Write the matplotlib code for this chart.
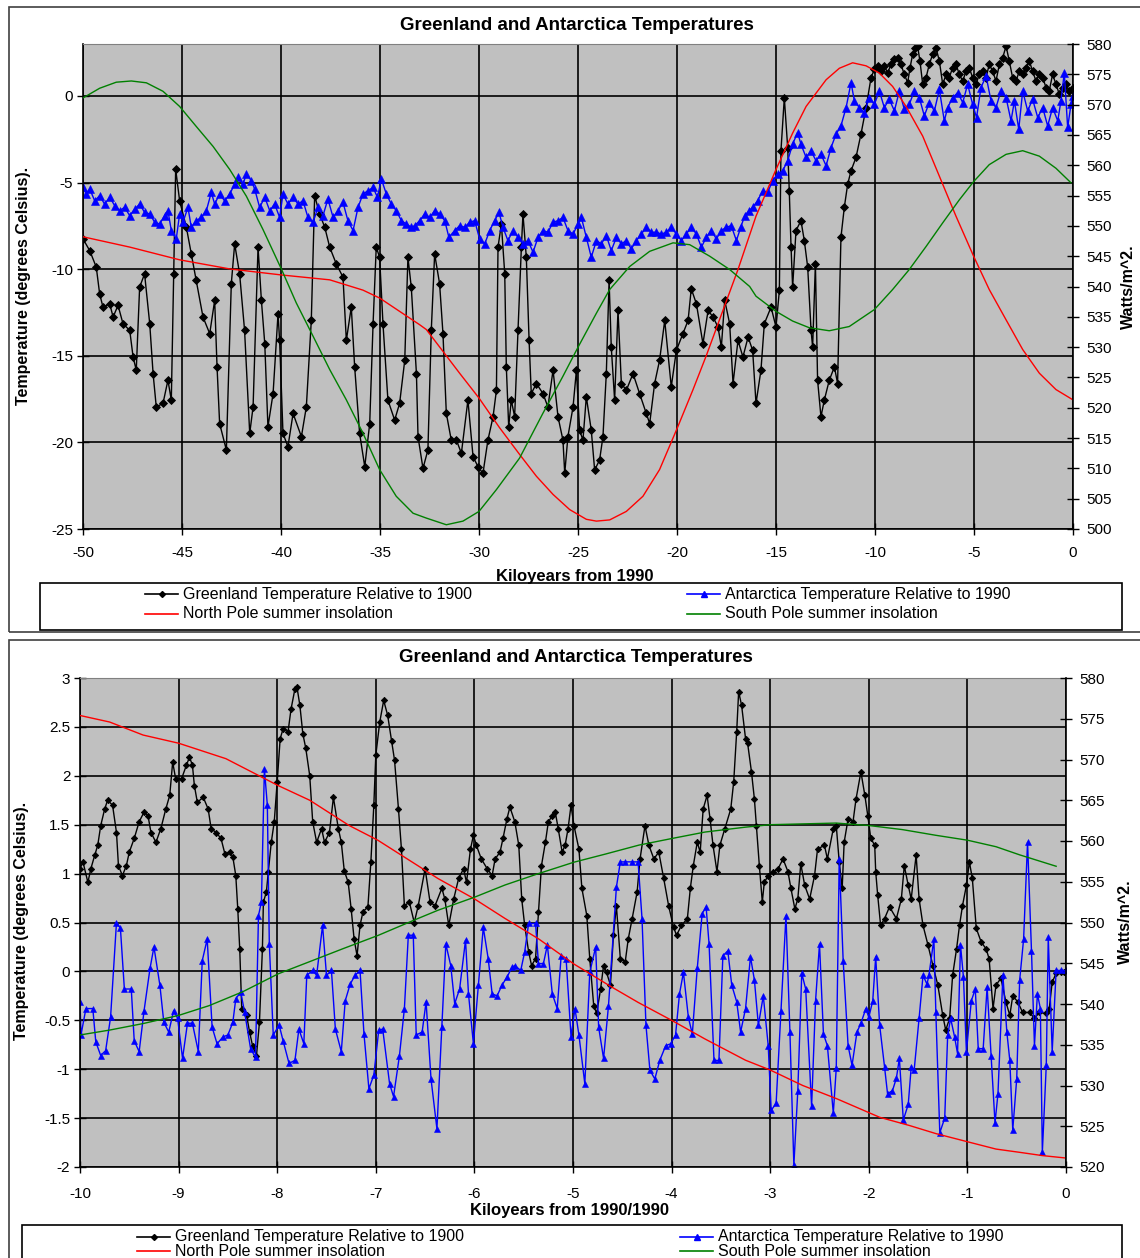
import matplotlib
matplotlib.use("Agg")
import matplotlib.pyplot as plt
from matplotlib.patches import Rectangle
from matplotlib.lines import Line2D
from matplotlib.ticker import FuncFormatter

plt.rcParams['font.family'] = ['Liberation Sans', 'DejaVu Sans']
plt.rcParams['axes.unicode_minus'] = False

FIG_W, FIG_H = 1140, 1258

# ---------------- data: last 50 kyr (kyr, degrees C) ----------------
greenland_50k = [
    (-50.00, -8.25), (-49.66, -8.93), (-49.33, -9.88), (-49.16, -11.42), (-48.99, -12.19),
    (-48.65, -12.00), (-48.48, -12.76), (-48.23, -12.09), (-47.98, -13.15), (-47.64, -13.53),
    (-47.47, -15.07), (-47.31, -15.83), (-47.14, -11.04), (-46.89, -10.27), (-46.63, -13.15),
    (-46.46, -16.03), (-46.30, -17.95), (-45.96, -17.75), (-45.71, -16.41), (-45.54, -17.56),
    (-45.42, -10.27), (-45.32, -4.22), (-45.12, -6.05), (-44.78, -7.58), (-44.53, -9.12),
    (-44.28, -10.65), (-43.94, -12.76), (-43.60, -13.72), (-43.35, -11.80), (-43.23, -15.64),
    (-43.10, -18.91), (-42.76, -20.44), (-42.51, -10.84), (-42.34, -8.54), (-42.09, -10.27),
    (-41.84, -13.53), (-41.58, -19.48), (-41.41, -17.95), (-41.16, -8.73), (-40.99, -11.80),
    (-40.82, -14.30), (-40.66, -19.10), (-40.40, -17.18), (-40.15, -12.57), (-40.07, -14.11),
    (-39.90, -19.48), (-39.65, -20.25), (-39.39, -18.33), (-38.97, -19.67), (-38.72, -17.95),
    (-38.47, -12.96), (-38.30, -5.76), (-38.05, -6.81), (-37.79, -7.58), (-37.54, -8.73),
    (-37.21, -9.69), (-36.87, -10.46), (-36.70, -14.11), (-36.45, -12.19), (-36.28, -15.64),
    (-36.03, -19.48), (-35.77, -21.40), (-35.52, -18.91), (-35.35, -13.15), (-35.19, -8.73),
    (-35.02, -9.31), (-34.85, -13.15), (-34.60, -17.56), (-34.26, -18.71), (-34.01, -17.75),
    (-33.75, -15.26), (-33.59, -9.31), (-33.42, -11.04), (-33.16, -16.03), (-33.08, -19.67),
    (-32.83, -21.50), (-32.58, -20.44), (-32.41, -13.53), (-32.24, -9.12), (-31.99, -10.84),
    (-31.82, -13.72), (-31.65, -18.33), (-31.40, -19.87), (-31.14, -19.87), (-30.89, -20.63),
    (-30.56, -17.56), (-30.30, -20.83), (-30.05, -21.40), (-29.80, -21.79), (-29.55, -19.87),
    (-29.29, -18.52), (-29.12, -16.99), (-29.04, -8.73), (-28.87, -7.39), (-28.70, -10.27),
    (-28.62, -15.64), (-28.50, -19.10), (-28.37, -17.56), (-28.20, -18.52), (-28.03, -13.53),
    (-27.86, -8.73), (-27.78, -6.81), (-27.61, -9.31), (-27.47, -14.11), (-27.36, -17.18),
    (-27.10, -16.60), (-26.77, -17.18), (-26.52, -17.95), (-26.26, -15.83), (-26.01, -18.52),
    (-25.76, -19.87), (-25.67, -21.79), (-25.51, -19.67), (-25.25, -17.95), (-25.08, -15.83),
    (-24.92, -19.29), (-24.75, -19.87), (-24.58, -17.37), (-24.33, -19.29), (-24.16, -21.59),
    (-23.91, -21.02), (-23.74, -19.67), (-23.57, -16.03), (-23.43, -10.65), (-23.32, -14.49),
    (-23.15, -17.56), (-22.98, -12.38), (-22.81, -16.60), (-22.56, -16.99), (-22.22, -16.03),
    (-21.89, -17.18), (-21.55, -18.33), (-21.38, -18.91), (-21.13, -16.60), (-20.88, -15.26),
    (-20.62, -12.96), (-20.29, -16.79), (-20.03, -14.68), (-19.70, -13.72), (-19.44, -12.96),
    (-19.28, -11.13), (-19.02, -12.00), (-18.69, -14.30), (-18.43, -12.38), (-18.18, -12.76),
    (-17.93, -13.34), (-17.76, -14.49), (-17.59, -11.80), (-17.34, -13.15), (-17.17, -16.60),
    (-16.92, -14.11), (-16.67, -15.07), (-16.41, -13.92), (-16.18, -14.68), (-16.01, -17.75),
    (-15.76, -15.83), (-15.59, -13.15), (-15.25, -12.19), (-15.00, -13.34), (-14.83, -11.23),
    (-14.75, -3.17), (-14.58, -0.10), (-14.41, -2.98), (-14.33, -5.47), (-14.24, -8.73),
    (-14.16, -11.04), (-13.99, -7.77), (-13.74, -7.20), (-13.57, -8.35), (-13.40, -9.88),
    (-13.23, -13.53), (-13.15, -14.49), (-13.01, -9.69), (-12.90, -16.41), (-12.73, -18.52),
    (-12.56, -17.56), (-12.31, -16.41), (-12.05, -15.64), (-11.89, -16.60), (-11.72, -8.16),
    (-11.55, -6.43), (-11.38, -5.09), (-11.21, -4.32), (-10.96, -3.55), (-10.71, -2.21),
    (-10.45, -0.67), (-10.20, 1.06), (-10.03, 1.54), (-9.87, 1.73), (-9.70, 1.44),
    (-9.53, 1.73), (-9.36, 1.34), (-9.19, 1.82), (-9.02, 2.11), (-8.86, 2.21),
    (-8.69, 1.82), (-8.52, 1.25), (-8.35, 0.77), (-8.23, 1.63), (-8.10, 2.40),
    (-7.96, 2.78), (-7.85, 2.88), (-7.73, 2.02), (-7.59, 0.67), (-7.42, 1.06),
    (-7.26, 1.82), (-7.09, 2.40), (-6.92, 2.78), (-6.75, 2.02), (-6.58, 0.67),
    (-6.41, 1.25), (-6.25, 1.06), (-6.08, 1.63), (-5.91, 1.82), (-5.74, 1.25),
    (-5.57, 0.86), (-5.40, 1.44), (-5.24, 1.63), (-5.07, 1.06), (-4.90, 0.67),
    (-4.73, 1.25), (-4.56, 1.44), (-4.39, 1.06), (-4.23, 1.82), (-4.06, 1.44),
    (-3.89, 0.86), (-3.72, 1.82), (-3.55, 2.21), (-3.38, 2.88), (-3.22, 2.02),
    (-3.05, 1.06), (-2.88, 0.86), (-2.71, 1.44), (-2.54, 1.25), (-2.37, 1.63),
    (-2.21, 2.02), (-2.04, 1.44), (-1.87, 0.86), (-1.70, 1.25), (-1.53, 1.06),
    (-1.36, 0.48), (-1.20, 0.29), (-1.03, 1.25), (-0.86, 0.67), (-0.69, 0.10),
    (-0.52, 0.48), (-0.35, 0.67), (-0.19, 0.29), (-0.02, 0.48),
]

antarctica_50k = [
    (-50.00, -5.28), (-49.83, -5.66), (-49.66, -5.37), (-49.41, -6.05), (-49.16, -5.76),
    (-48.91, -6.24), (-48.65, -5.85), (-48.40, -6.33), (-48.15, -6.62), (-47.90, -6.43),
    (-47.64, -6.91), (-47.39, -6.53), (-47.14, -6.24), (-46.89, -6.72), (-46.63, -6.81),
    (-46.38, -7.29), (-46.13, -7.39), (-45.88, -6.91), (-45.71, -6.62), (-45.54, -7.77),
    (-45.29, -8.25), (-45.12, -6.81), (-44.95, -7.29), (-44.70, -6.43), (-44.53, -7.58),
    (-44.28, -7.20), (-44.02, -7.01), (-43.77, -6.62), (-43.52, -5.57), (-43.35, -6.24),
    (-43.10, -5.66), (-42.85, -6.05), (-42.59, -5.66), (-42.34, -5.09), (-42.17, -4.70),
    (-41.92, -5.09), (-41.75, -4.51), (-41.50, -4.89), (-41.33, -5.37), (-41.08, -6.43),
    (-40.82, -5.85), (-40.57, -6.62), (-40.32, -6.24), (-40.07, -7.01), (-39.90, -5.66),
    (-39.65, -6.24), (-39.39, -5.85), (-39.14, -6.24), (-38.89, -6.05), (-38.64, -7.01),
    (-38.38, -7.29), (-38.13, -6.43), (-37.88, -6.91), (-37.63, -5.95), (-37.37, -7.01),
    (-37.12, -6.62), (-36.87, -6.14), (-36.62, -7.20), (-36.36, -7.77), (-36.11, -6.43),
    (-35.86, -5.66), (-35.61, -5.47), (-35.35, -5.28), (-35.13, -5.85), (-34.93, -4.80),
    (-34.68, -5.66), (-34.43, -6.24), (-34.18, -6.62), (-33.92, -7.20), (-33.67, -7.39),
    (-33.42, -7.58), (-33.25, -7.49), (-33.00, -7.20), (-32.74, -6.81), (-32.49, -7.01),
    (-32.24, -6.62), (-31.99, -6.81), (-31.73, -7.20), (-31.52, -8.16), (-31.23, -7.77),
    (-30.98, -7.49), (-30.72, -7.58), (-30.47, -7.29), (-30.22, -7.20), (-29.97, -8.25),
    (-29.71, -8.54), (-29.46, -7.77), (-29.21, -7.20), (-28.99, -6.72), (-28.79, -7.58),
    (-28.54, -8.35), (-28.28, -7.77), (-28.03, -8.16), (-27.78, -8.54), (-27.53, -8.35),
    (-27.27, -9.02), (-27.02, -8.16), (-26.77, -7.77), (-26.52, -7.87), (-26.26, -7.29),
    (-26.01, -7.20), (-25.76, -7.01), (-25.51, -7.77), (-25.25, -7.97), (-25.00, -7.39),
    (-24.83, -7.01), (-24.58, -8.16), (-24.33, -9.31), (-24.07, -8.35), (-23.82, -8.54),
    (-23.57, -8.06), (-23.32, -8.93), (-23.06, -8.16), (-22.81, -8.54), (-22.56, -8.35),
    (-22.31, -8.83), (-22.05, -8.35), (-21.80, -7.97), (-21.55, -7.58), (-21.30, -7.87),
    (-21.04, -7.87), (-20.79, -7.97), (-20.54, -7.87), (-20.29, -7.58), (-20.03, -7.97),
    (-19.78, -8.35), (-19.53, -7.97), (-19.28, -7.58), (-19.02, -7.97), (-18.77, -8.73),
    (-18.52, -8.16), (-18.27, -7.77), (-18.01, -8.25), (-17.76, -7.77), (-17.51, -7.58),
    (-17.26, -7.49), (-17.00, -8.35), (-16.78, -7.58), (-16.58, -6.91), (-16.36, -6.62),
    (-16.18, -6.43), (-15.93, -6.05), (-15.67, -5.47), (-15.42, -5.57), (-15.17, -4.89),
    (-14.92, -4.51), (-14.66, -4.32), (-14.41, -3.74), (-14.16, -2.78), (-13.91, -2.11),
    (-13.74, -2.78), (-13.48, -3.55), (-13.23, -3.17), (-12.98, -3.74), (-12.73, -3.36),
    (-12.47, -4.03), (-12.22, -2.98), (-11.97, -2.21), (-11.72, -1.73), (-11.46, -0.67),
    (-11.21, 0.77), (-11.04, -0.29), (-10.79, -0.67), (-10.54, -0.96), (-10.29, -0.10),
    (-10.03, -0.48), (-9.78, 0.29), (-9.53, -0.67), (-9.28, -0.19), (-9.02, -0.86),
    (-8.77, 0.29), (-8.52, -0.77), (-8.27, -0.48), (-8.01, 0.29), (-7.76, -0.10),
    (-7.51, -1.15), (-7.26, -0.38), (-7.00, -0.86), (-6.75, 0.38), (-6.50, -1.44),
    (-6.33, -0.67), (-6.08, -0.10), (-5.82, 0.19), (-5.57, -0.38), (-5.32, 0.67),
    (-5.07, -0.48), (-4.87, -1.25), (-4.65, 0.48), (-4.39, 1.15), (-4.14, -0.29),
    (-3.89, -0.67), (-3.64, 0.29), (-3.38, -0.10), (-3.13, -1.44), (-2.96, -0.29),
    (-2.74, -1.92), (-2.54, 0.29), (-2.29, -0.86), (-2.04, -0.19), (-1.78, -1.25),
    (-1.53, -0.67), (-1.28, -1.73), (-1.03, -0.67), (-0.77, -1.44), (-0.61, -0.29),
    (-0.44, 1.34), (-0.27, -1.82), (-0.10, -0.48), (-0.02, 0.00),
]

# insolation, Watts/m^2
north_50k = [
    (-50.00, 548.2), (-47.64, 546.5), (-45.12, 544.4), (-42.59, 542.9), (-39.97, 541.9),
    (-37.54, 541.1), (-35.86, 539.4), (-35.02, 538.1), (-34.01, 535.9), (-33.00, 533.7),
    (-32.66, 532.9), (-31.82, 529.3), (-30.98, 525.7), (-30.00, 521.6), (-28.96, 516.7),
    (-27.95, 512.3), (-27.10, 508.7), (-26.26, 505.7), (-25.42, 503.2), (-24.58, 501.6),
    (-24.07, 501.3), (-23.40, 501.5), (-22.56, 502.9), (-21.72, 505.4), (-20.88, 509.8),
    (-19.98, 516.7), (-19.19, 523.0), (-18.52, 528.6), (-16.92, 542.8), (-16.01, 551.6),
    (-15.00, 559.3), (-14.16, 565.3), (-13.48, 569.7), (-12.47, 574.1), (-11.80, 576.0),
    (-11.13, 576.9), (-10.45, 576.4), (-9.78, 575.2), (-9.11, 573.0), (-8.43, 569.7),
    (-7.59, 564.8), (-6.75, 558.2), (-5.91, 551.6), (-5.02, 545.0), (-4.23, 539.5),
    (-3.38, 534.5), (-2.54, 529.6), (-1.70, 525.7), (-0.86, 523.0), (0.00, 521.3),
]

south_50k = [
    (-50.00, 571.1), (-49.16, 572.7), (-48.32, 573.7), (-47.56, 573.9), (-46.80, 573.6),
    (-45.96, 572.2), (-45.12, 569.7), (-44.28, 566.4), (-43.43, 563.1), (-42.59, 559.3),
    (-41.75, 554.9), (-40.91, 549.4), (-39.97, 542.8), (-39.23, 537.3), (-38.38, 531.8),
    (-37.54, 526.3), (-36.70, 521.3), (-35.86, 515.8), (-35.02, 509.8), (-34.18, 505.4),
    (-33.33, 502.6), (-32.66, 501.8), (-31.65, 500.7), (-30.81, 501.3), (-30.00, 502.9),
    (-29.12, 506.5), (-27.95, 511.7), (-26.77, 519.1), (-25.76, 525.2), (-24.98, 530.1),
    (-24.07, 535.6), (-23.40, 539.5), (-22.39, 543.3), (-21.38, 545.8), (-20.20, 547.2),
    (-19.36, 546.9), (-18.35, 545.0), (-17.34, 542.8), (-16.33, 540.0), (-16.01, 538.4),
    (-15.00, 535.9), (-14.16, 534.3), (-13.32, 533.2), (-12.31, 532.7), (-11.30, 533.4),
    (-10.03, 536.2), (-9.11, 539.5), (-8.27, 542.8), (-7.42, 546.6), (-6.58, 550.5),
    (-5.74, 554.3), (-5.02, 557.3), (-4.23, 560.1), (-3.38, 561.8), (-2.54, 562.4),
    (-1.70, 561.5), (-0.86, 559.5), (-0.10, 557.1),
]

# ---------------- data: last 10 kyr ----------------
greenland_10k = [
    (-10.00, 1.05), (-9.97, 1.12), (-9.92, 0.91), (-9.89, 1.05), (-9.85, 1.19), (-9.82, 1.29),
    (-9.79, 1.49), (-9.75, 1.66), (-9.72, 1.75), (-9.67, 1.70), (-9.63, 1.42), (-9.61, 1.08),
    (-9.57, 0.98), (-9.53, 1.08), (-9.50, 1.22), (-9.45, 1.36), (-9.40, 1.53), (-9.35, 1.63),
    (-9.31, 1.59), (-9.28, 1.42), (-9.23, 1.32), (-9.18, 1.46), (-9.13, 1.66), (-9.09, 1.80),
    (-9.06, 2.14), (-9.03, 1.97), (-8.97, 1.97), (-8.92, 2.11), (-8.89, 2.19), (-8.86, 2.11),
    (-8.84, 1.90), (-8.81, 1.73), (-8.75, 1.78), (-8.70, 1.66), (-8.67, 1.46), (-8.62, 1.42),
    (-8.57, 1.36), (-8.53, 1.20), (-8.48, 1.22), (-8.45, 1.17), (-8.42, 0.98), (-8.40, 0.64),
    (-8.38, 0.23), (-8.36, -0.38), (-8.31, -0.45), (-8.28, -0.62), (-8.25, -0.76), (-8.21, -0.86),
    (-8.18, -0.52), (-8.15, 0.23), (-8.14, 0.71), (-8.11, 0.81), (-8.09, 1.02), (-8.06, 1.32),
    (-8.03, 1.53), (-8.00, 1.94), (-7.97, 2.38), (-7.94, 2.48), (-7.89, 2.45), (-7.86, 2.68),
    (-7.82, 2.89), (-7.80, 2.91), (-7.77, 2.72), (-7.74, 2.43), (-7.71, 2.28), (-7.67, 2.00),
    (-7.64, 1.53), (-7.60, 1.32), (-7.55, 1.46), (-7.52, 1.32), (-7.47, 1.42), (-7.43, 1.78),
    (-7.38, 1.46), (-7.35, 1.32), (-7.32, 1.03), (-7.28, 0.91), (-7.25, 0.64), (-7.22, 0.33),
    (-7.19, 0.16), (-7.16, 0.47), (-7.13, 0.61), (-7.08, 0.66), (-7.05, 1.12), (-7.02, 1.70),
    (-7.00, 2.21), (-6.96, 2.55), (-6.92, 2.77), (-6.88, 2.62), (-6.84, 2.36), (-6.81, 2.16),
    (-6.77, 1.66), (-6.74, 1.25), (-6.71, 0.67), (-6.66, 0.71), (-6.61, 0.50), (-6.57, 0.67),
    (-6.50, 1.05), (-6.45, 0.71), (-6.40, 0.67), (-6.33, 0.85), (-6.30, 0.74), (-6.26, 0.47),
    (-6.21, 0.74), (-6.16, 0.95), (-6.11, 1.05), (-6.08, 0.91), (-6.04, 1.25), (-6.01, 1.39),
    (-5.98, 1.29), (-5.93, 1.15), (-5.87, 1.05), (-5.82, 0.98), (-5.79, 1.15), (-5.74, 1.22),
    (-5.71, 1.36), (-5.67, 1.56), (-5.64, 1.68), (-5.59, 1.53), (-5.55, 1.29), (-5.52, 0.74),
    (-5.49, 0.47), (-5.45, 0.20), (-5.42, 0.06), (-5.38, 0.13), (-5.35, 0.61), (-5.32, 1.08),
    (-5.28, 1.32), (-5.25, 1.53), (-5.21, 1.59), (-5.18, 1.63), (-5.15, 1.46), (-5.11, 1.22),
    (-5.08, 1.29), (-5.05, 1.46), (-5.02, 1.70), (-4.99, 1.49), (-4.94, 1.25), (-4.91, 0.85),
    (-4.86, 0.57), (-4.83, 0.13), (-4.79, -0.35), (-4.76, -0.43), (-4.72, -0.18), (-4.69, 0.06),
    (-4.66, -0.01), (-4.62, -0.14), (-4.59, 0.37), (-4.56, 0.67), (-4.52, 0.13), (-4.47, 0.10),
    (-4.44, 0.33), (-4.40, 0.54), (-4.35, 0.81), (-4.32, 1.15), (-4.27, 1.49), (-4.23, 1.29),
    (-4.18, 1.15), (-4.13, 1.22), (-4.08, 0.95), (-4.03, 0.67), (-3.98, 0.45), (-3.95, 0.37),
    (-3.90, 0.47), (-3.84, 0.54), (-3.81, 0.85), (-3.78, 1.08), (-3.74, 1.32), (-3.71, 1.22),
    (-3.68, 1.66), (-3.64, 1.80), (-3.61, 1.56), (-3.58, 1.29), (-3.54, 1.02), (-3.51, 1.29),
    (-3.46, 1.46), (-3.40, 1.66), (-3.37, 1.94), (-3.34, 2.45), (-3.32, 2.86), (-3.29, 2.72),
    (-3.25, 2.38), (-3.23, 2.34), (-3.19, 2.04), (-3.16, 1.76), (-3.14, 1.49), (-3.11, 1.08),
    (-3.08, 0.71), (-3.06, 0.91), (-3.02, 0.98), (-2.97, 1.02), (-2.92, 1.05), (-2.87, 1.15),
    (-2.82, 1.02), (-2.79, 0.85), (-2.75, 0.64), (-2.72, 0.74), (-2.69, 1.10), (-2.65, 0.88),
    (-2.60, 0.74), (-2.55, 0.98), (-2.52, 1.25), (-2.45, 1.29), (-2.42, 1.15), (-2.36, 1.46),
    (-2.33, 1.49), (-2.30, 1.12), (-2.27, 0.85), (-2.25, 1.32), (-2.21, 1.56), (-2.16, 1.53),
    (-2.13, 1.76), (-2.08, 2.04), (-2.04, 1.80), (-2.01, 1.59), (-1.98, 1.36), (-1.94, 1.29),
    (-1.93, 1.02), (-1.91, 0.78), (-1.88, 0.47), (-1.84, 0.54), (-1.79, 0.66), (-1.72, 0.54),
    (-1.67, 0.74), (-1.64, 1.08), (-1.60, 0.88), (-1.57, 0.74), (-1.52, 1.19), (-1.49, 0.74),
    (-1.45, 0.47), (-1.40, 0.27), (-1.35, 0.06), (-1.30, -0.14), (-1.25, -0.45), (-1.22, -0.60),
    (-1.18, -0.48), (-1.15, -0.04), (-1.11, 0.23), (-1.08, 0.47), (-1.05, 0.67), (-1.01, 0.88),
    (-0.98, 1.12), (-0.95, 0.95), (-0.91, 0.44), (-0.86, 0.30), (-0.81, 0.23), (-0.78, 0.13),
    (-0.74, -0.38), (-0.71, -0.14), (-0.66, -0.07), (-0.61, -0.31), (-0.57, -0.45), (-0.54, -0.25),
    (-0.49, -0.31), (-0.44, -0.42), (-0.37, -0.42), (-0.32, -0.48), (-0.27, -0.42), (-0.20, -0.43),
    (-0.17, -0.38), (-0.14, -0.11), (-0.10, -0.02), (-0.05, -0.01), (-0.02, -0.01),
]

antarctica_10k = [
    (-10.00, -0.31), (-9.99, -0.65), (-9.94, -0.38), (-9.87, -0.38), (-9.84, -0.72), (-9.79, -0.86),
    (-9.74, -0.81), (-9.69, -0.47), (-9.63, 0.50), (-9.59, 0.44), (-9.55, -0.18), (-9.48, -0.18),
    (-9.45, -0.71), (-9.40, -0.82), (-9.35, -0.40), (-9.29, 0.03), (-9.25, 0.25), (-9.19, -0.14),
    (-9.15, -0.52), (-9.10, -0.62), (-9.05, -0.40), (-9.01, -0.48), (-8.96, -0.89), (-8.91, -0.53),
    (-8.86, -0.53), (-8.80, -0.82), (-8.76, 0.11), (-8.71, 0.33), (-8.66, -0.57), (-8.61, -0.74),
    (-8.55, -0.67), (-8.50, -0.65), (-8.45, -0.52), (-8.42, -0.28), (-8.37, -0.21), (-8.33, -0.42),
    (-8.27, -0.79), (-8.22, -0.88), (-8.19, 0.57), (-8.16, 0.71), (-8.13, 2.07), (-8.10, 1.70),
    (-8.08, 0.28), (-8.04, -0.65), (-7.98, -0.55), (-7.94, -0.71), (-7.88, -0.94), (-7.82, -0.91),
    (-7.78, -0.59), (-7.73, -0.74), (-7.70, -0.04), (-7.64, 0.01), (-7.60, -0.04), (-7.54, 0.47),
    (-7.50, -0.04), (-7.45, 0.01), (-7.41, -0.59), (-7.35, -0.82), (-7.31, -0.30), (-7.26, -0.13),
    (-7.21, -0.04), (-7.16, 0.01), (-7.12, -0.64), (-7.07, -1.20), (-7.02, -1.06), (-6.97, -0.60),
    (-6.93, -0.59), (-6.86, -1.15), (-6.82, -1.28), (-6.76, -0.86), (-6.71, -0.38), (-6.67, 0.37),
    (-6.62, 0.37), (-6.59, -0.65), (-6.53, -0.62), (-6.49, -0.31), (-6.44, -1.10), (-6.38, -1.61),
    (-6.33, -0.57), (-6.29, 0.28), (-6.24, 0.06), (-6.20, -0.33), (-6.15, -0.18), (-6.09, 0.32),
    (-6.06, -0.23), (-6.01, -0.74), (-5.96, -0.14), (-5.91, 0.45), (-5.86, 0.13), (-5.82, -0.23),
    (-5.77, -0.25), (-5.72, -0.14), (-5.67, -0.06), (-5.62, 0.04), (-5.59, 0.06), (-5.53, 0.01),
    (-5.49, 0.20), (-5.45, 0.49), (-5.38, 0.49), (-5.35, 0.08), (-5.30, 0.08), (-5.26, 0.27),
    (-5.21, -0.23), (-5.16, -0.38), (-5.12, 0.16), (-5.07, 0.13), (-5.02, -0.67), (-4.98, -0.38),
    (-4.94, -0.65), (-4.88, -1.15), (-4.83, -0.01), (-4.77, 0.25), (-4.74, -0.57), (-4.69, -0.89),
    (-4.64, -0.35), (-4.56, 0.86), (-4.52, 1.12), (-4.47, 1.12), (-4.40, 1.12), (-4.34, 1.12),
    (-4.30, 0.54), (-4.26, -0.55), (-4.22, -1.01), (-4.17, -1.10), (-4.12, -0.91), (-4.06, -0.76),
    (-4.01, -0.74), (-3.96, -0.65), (-3.92, -0.23), (-3.88, -0.01), (-3.83, -0.47), (-3.79, -0.64),
    (-3.74, 0.03), (-3.69, 0.59), (-3.65, 0.66), (-3.62, 0.28), (-3.57, -0.91), (-3.52, -0.91),
    (-3.48, 0.16), (-3.43, 0.21), (-3.39, -0.14), (-3.34, -0.31), (-3.30, -0.62), (-3.25, -0.38),
    (-3.20, 0.15), (-3.16, -0.09), (-3.12, -0.55), (-3.07, -0.25), (-3.02, -0.76), (-2.99, -1.42),
    (-2.94, -1.35), (-2.89, -0.40), (-2.84, 0.57), (-2.80, -0.62), (-2.76, -1.98), (-2.72, -1.22),
    (-2.68, -0.02), (-2.64, -0.18), (-2.58, -1.38), (-2.54, -0.30), (-2.50, 0.28), (-2.46, -0.64),
    (-2.42, -0.76), (-2.36, -1.45), (-2.33, -0.99), (-2.30, 1.15), (-2.26, 0.11), (-2.21, -0.76),
    (-2.17, -0.96), (-2.12, -0.62), (-2.08, -0.53), (-2.03, -0.38), (-2.00, -0.47), (-1.96, -0.30),
    (-1.93, 0.15), (-1.89, -0.55), (-1.84, -0.98), (-1.81, -1.25), (-1.76, -1.22), (-1.72, -1.09),
    (-1.69, -0.89), (-1.65, -1.52), (-1.60, -1.36), (-1.57, -0.98), (-1.54, -1.01), (-1.49, -0.48),
    (-1.45, -0.04), (-1.41, -0.13), (-1.39, -0.04), (-1.34, 0.33), (-1.32, -0.42), (-1.28, -1.65),
    (-1.23, -1.50), (-1.20, -0.65), (-1.17, -0.48), (-1.13, -0.67), (-1.10, -0.84), (-1.07, 0.27),
    (-1.04, -0.06), (-1.01, -0.82), (-0.96, -0.30), (-0.92, -0.18), (-0.89, -0.79), (-0.84, -0.79),
    (-0.80, -0.16), (-0.76, -0.86), (-0.72, -1.55), (-0.69, -1.25), (-0.64, -0.04), (-0.60, -0.62),
    (-0.57, -0.91), (-0.54, -1.62), (-0.50, -1.10), (-0.47, -0.09), (-0.43, 0.33), (-0.39, 1.32),
    (-0.35, 0.21), (-0.32, -0.76), (-0.29, -0.23), (-0.26, -0.38), (-0.24, -1.85), (-0.20, -0.96),
    (-0.18, 0.35), (-0.14, -0.82), (-0.10, 0.01), (-0.05, 0.01), (0.00, 0.01),
]

north_10k = [
    (-10.00, 575.4), (-9.70, 574.6), (-9.36, 573.0), (-9.00, 572.0), (-8.52, 570.1), (-7.99, 566.8),
    (-7.67, 565.0), (-7.27, 561.9), (-6.98, 560.1), (-6.59, 557.1), (-6.37, 555.4), (-6.00, 552.9),
    (-5.69, 550.5), (-5.35, 548.0), (-4.99, 544.9), (-4.61, 542.1), (-4.34, 540.2), (-4.00, 538.0),
    (-3.66, 535.7), (-3.25, 533.1), (-3.00, 531.9), (-2.67, 530.0), (-2.33, 528.4), (-1.89, 526.1),
    (-1.59, 525.1), (-1.32, 524.1), (-1.00, 523.1), (-0.71, 522.2), (-0.47, 521.8), (-0.24, 521.4),
    (0.00, 521.1),
]

south_10k = [
    (-10.00, 536.2), (-9.70, 536.8), (-9.36, 537.6), (-9.00, 538.6), (-8.69, 539.8), (-8.35, 541.5),
    (-7.99, 543.7), (-7.67, 545.2), (-7.33, 546.8), (-6.98, 548.4), (-6.59, 550.4), (-6.37, 551.5),
    (-6.00, 553.1), (-5.69, 554.6), (-5.35, 556.0), (-4.99, 557.4), (-4.67, 558.4), (-4.33, 559.5),
    (-4.00, 560.3), (-3.66, 561.1), (-3.25, 561.7), (-3.00, 562.0), (-2.67, 562.1), (-2.33, 562.2),
    (-2.00, 561.9), (-1.66, 561.4), (-1.32, 560.7), (-1.00, 560.1), (-0.71, 559.3), (-0.47, 558.3),
    (-0.10, 556.9),
]

title = "Greenland and Antarctica Temperatures"
series_names = ["Greenland Temperature Relative to 1900",
                "Antarctica Temperature Relative to 1990",
                "North Pole summer insolation",
                "South Pole summer insolation"]
temp_label = "Temperature (degrees Celsius)."
watts_label = "Watts/m^2."

colors = {"green": "black", "ant": "#0000ff", "north": "#ff0000", "south": "#008000"}


def fx(px):
    return px / FIG_W


def fy(py):
    return 1 - py / FIG_H


def num(v, pos=None):
    return "%g" % v


def make_panel(fig, box, xticks, ylim, yticks, wticks, greenland, antarctica, north, south,
               tick_pad, gms, ams):
    x0, y0, x1, y1 = box
    ax = fig.add_axes([fx(x0), fy(y1), fx(x1) - fx(x0), fy(y0) - fy(y1)])
    ax.set_facecolor("#c0c0c0")
    ax.set_axisbelow(True)

    gx, gy = zip(*greenland)
    ax.plot(gx, gy, color=colors["green"], lw=1, marker="D", ms=gms, mew=0.6)
    ax_, ay = zip(*antarctica)
    ax.plot(ax_, ay, color=colors["ant"], lw=1, marker="^", ms=ams, mew=0.4)

    ax.set_xlim(xticks[0], xticks[-1])
    ax.set_ylim(*ylim)
    ax.set_xticks(xticks)
    ax.set_yticks(yticks)
    ax.xaxis.set_major_formatter(FuncFormatter(num))
    ax.yaxis.set_major_formatter(FuncFormatter(num))
    ax.grid(True, color="black", lw=1.2)
    ax.tick_params(direction="inout", length=9, width=1, labelsize=11, colors="black")
    ax.tick_params(axis="x", pad=tick_pad)
    ax.tick_params(axis="y", pad=2.5)
    ax.spines["top"].set_color("#808080")
    ax.spines["right"].set_visible(False)
    ax.spines["left"].set_linewidth(1.2)
    ax.spines["bottom"].set_linewidth(1.2)

    ax2 = ax.twinx()
    nx, ny = zip(*north)
    ax2.plot(nx, ny, color=colors["north"], lw=1)
    sx, sy = zip(*south)
    ax2.plot(sx, sy, color=colors["south"], lw=1)
    ax2.set_ylim(wticks[0], wticks[-1])
    ax2.set_yticks(wticks)
    ax2.yaxis.set_major_formatter(FuncFormatter(num))
    ax2.tick_params(direction="inout", length=9, width=1, labelsize=11, pad=5)
    for s in ["top", "left", "bottom"]:
        ax2.spines[s].set_visible(False)
    ax2.spines["right"].set_linewidth(1.2)
    return ax, ax2


def legend_entry(fig, x0, y, label, color, marker, ms, size):
    line = Line2D([fx(x0), fx(x0 + 17), fx(x0 + 33)], [fy(y)] * 3, transform=fig.transFigure,
                  color=color, lw=1.2, marker=marker, ms=ms, markevery=[1])
    fig.add_artist(line)
    fig.text(fx(x0 + 38), fy(y), label, va="center", ha="left", fontsize=size)


def frame(fig, x0, y0, x1, y1, lw=1.2, color="#404040"):
    fig.add_artist(Rectangle((fx(x0), fy(y1)), fx(x1) - fx(x0), fy(y0) - fy(y1),
                             transform=fig.transFigure, fill=False, edgecolor=color, lw=lw))


fig = plt.figure(figsize=(FIG_W / 100, FIG_H / 100), dpi=100)

# ---- top chart: 50 kyr ----
frame(fig, 9, 7, 1150, 632)
make_panel(fig, (83, 44, 1073, 529), list(range(-50, 1, 5)), (-25, 3), list(range(-25, 1, 5)),
           list(range(500, 581, 5)), greenland_50k, antarctica_50k, north_50k, south_50k, 8,
           3.8, 6)
fig.text(fx(577), fy(25), title, ha="center", va="center", fontsize=13.5, weight="bold")
fig.text(fx(575), fy(576), "Kiloyears from 1990", ha="center", va="center", fontsize=12, weight="bold")
fig.text(fx(24), fy(286), temp_label, ha="center", va="center", rotation=90, fontsize=11.5, weight="bold")
fig.text(fx(1128), fy(287), watts_label, ha="center", va="center", rotation=90, fontsize=11.5, weight="bold")
fig.add_artist(Rectangle((fx(40), fy(630)), fx(1122) - fx(40), fy(583) - fy(630),
                         transform=fig.transFigure, facecolor="white", edgecolor="black", lw=1.2))
legend_entry(fig, 145, 594, series_names[0], colors["green"], "D", 3, 11.5)
legend_entry(fig, 145, 614, series_names[2], colors["north"], None, 0, 11.5)
legend_entry(fig, 687, 594, series_names[1], colors["ant"], "^", 4.5, 11.5)
legend_entry(fig, 687, 614, series_names[3], colors["south"], None, 0, 11.5)

# ---- bottom chart: 10 kyr ----
frame(fig, 9, 640, 1150, 1270)
make_panel(fig, (80, 678, 1066, 1167), list(range(-10, 1)), (-2, 3),
           [-2 + 0.5 * i for i in range(11)], list(range(520, 581, 5)),
           greenland_10k, antarctica_10k, north_10k, south_10k, 10, 3.2, 4.8)
fig.text(fx(576), fy(658), title, ha="center", va="center", fontsize=13.5, weight="bold")
fig.text(fx(569), fy(1211), "Kiloyears from 1990/1990", ha="center", va="center", fontsize=12, weight="bold")
fig.text(fx(22), fy(921), temp_label, ha="center", va="center", rotation=90, fontsize=11.5, weight="bold")
fig.text(fx(1125), fy(922), watts_label, ha="center", va="center", rotation=90, fontsize=11.5, weight="bold")
fig.add_artist(Rectangle((fx(22), fy(1270)), fx(1122) - fx(22), fy(1225) - fy(1270),
                         transform=fig.transFigure, facecolor="white", edgecolor="black", lw=1.2))
legend_entry(fig, 137, 1237, series_names[0], colors["green"], "D", 3, 11.5)
legend_entry(fig, 137, 1251, series_names[2], colors["north"], None, 0, 11.5)
legend_entry(fig, 680, 1237, series_names[1], colors["ant"], "^", 4.5, 11.5)
legend_entry(fig, 680, 1251, series_names[3], colors["south"], None, 0, 11.5)

fig.savefig("out.png", dpi=100)
